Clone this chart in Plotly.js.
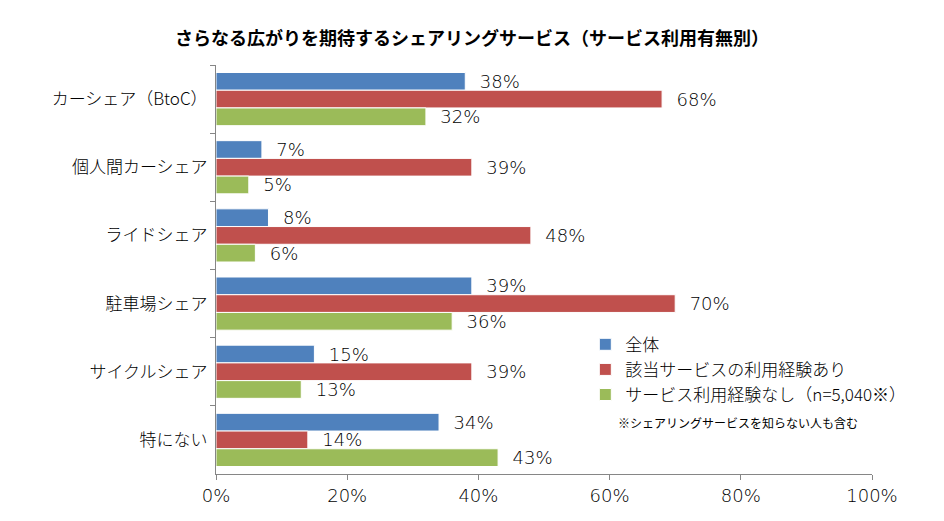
<!DOCTYPE html>
<html>
<head>
<meta charset="utf-8">
<script src="https://cdn.plot.ly/plotly-3.0.1.min.js"></script>
<style>html,body{margin:0;padding:0;background:#fff;}#chart{width:944px;height:521px;}</style>
</head>
<body>
<div id="chart"></div>
<script>
const categories = ['カーシェア（BtoC）', '個人間カーシェア', 'ライドシェア', '駐車場シェア', 'サイクルシェア', '特にない'];
const seriesNames = ['全体', '該当サービスの利用経験あり', 'サービス利用経験なし（n=5,040※）'];
const allValues = [38, 7, 8, 39, 15, 34];
const usedValues = [68, 39, 48, 70, 39, 14];
const notUsedValues = [32, 5, 6, 36, 13, 43];
const xTickVals = [0, 20, 40, 60, 80, 100];
const xTickText = ['0%', '20%', '40%', '60%', '80%', '100%'];
const colors = ['#4F81BD', '#C0504D', '#9BBB59'];

const jpFont = 'Noto Sans CJK JP, sans-serif';
const numFont = 'DejaVu Sans, Noto Sans CJK JP, sans-serif';

function mk(vals, i) {
  return {
    type: 'bar', orientation: 'h',
    y: categories, x: vals, name: seriesNames[i],
    marker: {color: colors[i], line: {color: '#ffffff', width: 1}},
    text: vals.map(v => '  ' + v + '%'),
    textposition: 'outside',
    constraintext: 'none',
    cliponaxis: false,
    textfont: {family: numFont, size: 18, color: '#000000', weight: 200},
    hoverinfo: 'none'
  };
}

const data = [mk(allValues, 0), mk(usedValues, 1), mk(notUsedValues, 2)];

const layout = {
  width: 944, height: 521,
  margin: {l: 216, r: 72, t: 65, b: 47},
  paper_bgcolor: '#ffffff', plot_bgcolor: '#ffffff',
  barmode: 'group', bargap: 0.22, bargroupgap: 0,
  title: {text: '<b>さらなる広がりを期待するシェアリングサービス（サービス利用有無別）</b>', x: 0.5, xanchor: 'center', y: 0.925, yanchor: 'middle',
    font: {family: jpFont, size: 18, color: '#000000'}},
  xaxis: {range: [0, 100], tickvals: xTickVals, ticktext: xTickText, showgrid: false, zeroline: false,
    showline: true, linecolor: '#868686', linewidth: 1, ticks: 'outside', ticklen: 5, tickcolor: '#868686',
    tickfont: {family: numFont, size: 18, color: '#000000', weight: 200}, fixedrange: true},
  yaxis: {type: 'category', autorange: 'reversed', showgrid: false, zeroline: false,
    showline: true, linecolor: '#868686', linewidth: 1, ticks: 'outside', ticklen: 5, tickcolor: '#868686',
    tickson: 'boundaries', ticklabelstandoff: 4,
    tickfont: {family: jpFont, size: 17, color: '#000000', weight: 300}, fixedrange: true},
  legend: {x: 0.563, y: 0.36, xanchor: 'left', yanchor: 'top', bgcolor: 'rgba(0,0,0,0)',
    font: {family: jpFont, size: 17, color: '#000000', weight: 300}, tracegroupgap: 0, itemwidth: 30, traceorder: 'normal'},
  annotations: [{xref: 'paper', yref: 'paper', x: 0.61, y: 0.125, xanchor: 'left', yanchor: 'middle', showarrow: false,
    text: '※シェアリングサービスを知らない人も含む', font: {family: jpFont, size: 12, color: '#000000'}}],
  showlegend: true
};

Plotly.newPlot('chart', data, layout, {displayModeBar: false, staticPlot: true});
</script>
</body>
</html>
